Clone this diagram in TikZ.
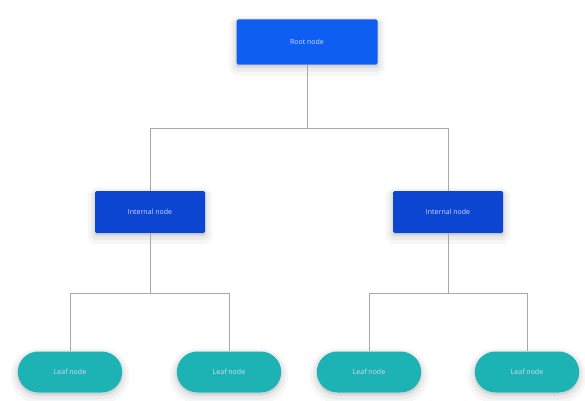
\documentclass[tikz,border=0pt]{standalone}
\usepackage{fontspec}
\setmainfont{Open Sans}
\usetikzlibrary{shapes.misc}
\definecolor{rootblue}{HTML}{0F5EF2}
\definecolor{intblue}{HTML}{0B45D2}
\definecolor{leafteal}{HTML}{1DB3B5}
\definecolor{linegray}{HTML}{A8A8A8}
\tikzset{
  softshadow/.style={
    preaction={draw=black, draw opacity=0.035, line width=14pt, transform canvas={yshift=-4pt}},
    preaction={draw=black, draw opacity=0.04, line width=8pt, transform canvas={yshift=-3pt}},
    preaction={draw=black, fill=black, draw opacity=0.05, fill opacity=0.05, line width=3pt, transform canvas={yshift=-2pt}}},
  box/.style={draw=none, text=white!85!blue, font=\fontsize{7}{8}\selectfont, softshadow},
  rootbox/.style={box, fill=rootblue, minimum width=141pt, minimum height=45pt, rounded corners=1.5pt},
  intbox/.style={box, fill=intblue, minimum width=110pt, minimum height=42pt, rounded corners=1.5pt},
  leafbox/.style={box, fill=leafteal, rounded rectangle, minimum width=111pt, minimum height=41pt},
  link/.style={draw=linegray, line width=0.8pt}
}
\begin{document}
\begin{tikzpicture}[x=1pt,y=1pt]
\useasboundingbox (0,0) rectangle (585,400);
\fill[white] (0,0) rectangle (585,400);
\coordinate (jr) at (307,272);
\coordinate (jl) at (150,107);
\coordinate (jR) at (448,107);
\node[rootbox] (root) at (307,358) {Root node};
\node[intbox] (intL) at (150,188) {Internal node};
\node[intbox] (intR) at (448,188) {Internal node};
\node[leafbox] (l1) at (70,28) {Leaf node};
\node[leafbox] (l2) at (229,28) {Leaf node};
\node[leafbox] (l3) at (369,28) {Leaf node};
\node[leafbox] (l4) at (527,28) {Leaf node};
\draw[link] (root.south) -- (jr);
\draw[link] (jr) -| (intL.north);
\draw[link] (jr) -| (intR.north);
\draw[link] (intL.south) -- (jl);
\draw[link] (jl) -| (l1.north);
\draw[link] (jl) -| (l2.north);
\draw[link] (intR.south) -- (jR);
\draw[link] (jR) -| (l3.north);
\draw[link] (jR) -| (l4.north);
\end{tikzpicture}
\end{document}
